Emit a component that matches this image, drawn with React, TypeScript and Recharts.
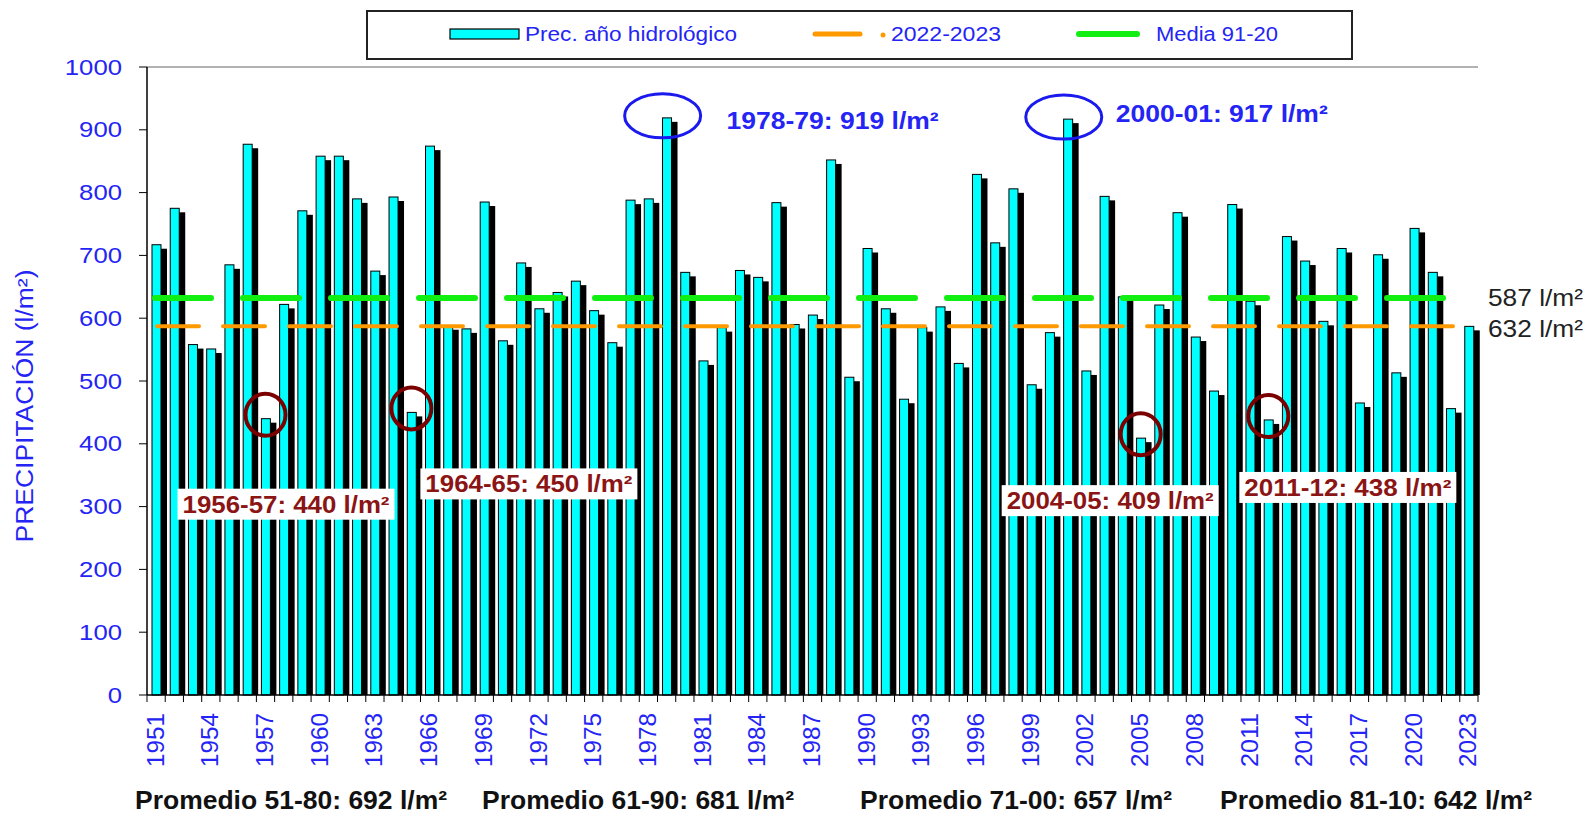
import { BarChart, Bar, XAxis, YAxis, ReferenceLine, ReferenceDot, Customized } from "recharts";

document.body.style.margin = "0";

const years = [
  "1951", "1952", "1953", "1954", "1955", "1956", "1957", "1958", "1959", "1960",
  "1961", "1962", "1963", "1964", "1965", "1966", "1967", "1968", "1969", "1970",
  "1971", "1972", "1973", "1974", "1975", "1976", "1977", "1978", "1979", "1980",
  "1981", "1982", "1983", "1984", "1985", "1986", "1987", "1988", "1989", "1990",
  "1991", "1992", "1993", "1994", "1995", "1996", "1997", "1998", "1999", "2000",
  "2001", "2002", "2003", "2004", "2005", "2006", "2007", "2008", "2009", "2010",
  "2011", "2012", "2013", "2014", "2015", "2016", "2017", "2018", "2019", "2020",
  "2021", "2022", "2023",
];

// precipitación del año hidrológico (l/m²)
const precip = [
  717, 775, 558, 551, 685, 877, 440, 622, 771, 858,
  858, 790, 675, 793, 450, 874, 588, 583, 785, 564,
  688, 615, 641, 659, 612, 561, 788, 790, 919, 673,
  532, 585, 676, 665, 784, 590, 605, 852, 506, 711,
  615, 471, 585, 618, 528, 829, 720, 806, 494, 577,
  917, 516, 794, 634, 409, 621, 768, 570, 484, 781,
  627, 438, 730, 691, 595, 711, 465, 701, 513, 743,
  673, 456, 587,
];

const labelYears = [
  "1951", "1954", "1957", "1960", "1963", "1966", "1969", "1972", "1975", "1978",
  "1981", "1984", "1987", "1990", "1993", "1996", "1999", "2002", "2005", "2008",
  "2011", "2014", "2017", "2020", "2023",
];

const yTicks = [0, 100, 200, 300, 400, 500, 600, 700, 800, 900, 1000];

const media9120 = 632;
const year2223 = 587;

const maxima = [
  { year: "1979", value: 919, text: "1978-79: 919 l/m²" },
  { year: "2001", value: 917, text: "2000-01: 917 l/m²" },
];
const minima = [
  { year: "1957", value: 440, text: "1956-57: 440 l/m²" },
  { year: "1965", value: 450, text: "1964-65: 450 l/m²" },
  { year: "2005", value: 409, text: "2004-05: 409 l/m²" },
  { year: "2012", value: 438, text: "2011-12: 438 l/m²" },
];
const promedios = [
  "Promedio 51-80: 692 l/m²",
  "Promedio 61-90: 681 l/m²",
  "Promedio 71-00: 657 l/m²",
  "Promedio 81-10: 642 l/m²",
];

// layout only
const maxOffsets = [{ tx: 60, ty: 11 }, { tx: 48, ty: 3 }];
const minOffsets = [
  { bx: -88, by: 70 },
  { bx: 9, by: 56 },
  { bx: -139, by: 47 },
  { bx: -29, by: 52 },
];
const promX = [135, 482, 860, 1220];

// dashes stop before the right border, as in the original
const greenDash = Array(14).fill("56 32").join(" ") + " 56 800";
const orangeDash = Array(19).fill("42 24").join(" ") + " 42 800";

const data = years.map((year, i) => ({ year, prec: precip[i] }));

const BLUE = "#2424f5";
const RED = "#8b1515";
const ARIAL = "'Liberation Sans', Arial, sans-serif";
const NARROW = "'Liberation Sans Narrow', 'Arial Narrow', 'Liberation Sans', Arial, sans-serif";

const ShadowBar = (props: any) => {
  const { x, y, width, height } = props;
  if (height == null || height <= 0) return null;
  return (
    <g>
      <rect x={x + 6} y={y + 4} width={width} height={height - 4} fill="#000" />
      <rect x={x} y={y} width={width} height={height} fill="#00ffff" stroke="#000" strokeWidth={1} />
    </g>
  );
};

const XTick = (props: any) => {
  const { x, y, payload, index } = props;
  const half = 9.12;
  const show = labelYears.includes(payload.value);
  return (
    <g>
      <line x1={x - half} x2={x - half} y1={y} y2={y + 7} stroke="#000" />
      {index === years.length - 1 && <line x1={x + half} x2={x + half} y1={y} y2={y + 7} stroke="#000" />}
      {show && (
        <text
          transform={`translate(${x - 1}, ${y + 18}) rotate(-90)`}
          textAnchor="end"
          dominantBaseline="central"
          fill={BLUE}
          fontSize={24}
          fontFamily={ARIAL}
          textLength={54}
          lengthAdjust="spacingAndGlyphs"
        >
          {payload.value}
        </text>
      )}
    </g>
  );
};

const YTick = (props: any) => {
  const { x, y, payload } = props;
  const s = String(payload.value);
  return (
    <text
      x={x}
      y={y}
      textAnchor="end"
      dominantBaseline="central"
      fill={BLUE}
      fontSize={22}
      fontFamily={ARIAL}
      textLength={s.length * 14.3}
      lengthAdjust="spacingAndGlyphs"
    >
      {s}
    </text>
  );
};

const Extras = () => (
  <g>
    {/* legend */}
    <rect x={367} y={11} width={985} height={48} fill="#fff" stroke="#222" strokeWidth={2} />
    <rect x={450} y={29} width={69} height={10} fill="#00ffff" stroke="#000" strokeWidth={1.2} />
    <text x={525} y={41} fill={BLUE} fontSize={20} fontFamily={NARROW} textLength={212} lengthAdjust="spacingAndGlyphs">
      Prec. año hidrológico
    </text>
    <line x1={815} x2={860} y1={34} y2={34} stroke="#ff9900" strokeWidth={5} strokeLinecap="round" />
    <circle cx={883} cy={35} r={2.5} fill="#ff9900" />
    <text x={891} y={41} fill={BLUE} fontSize={20} fontFamily={NARROW} textLength={110} lengthAdjust="spacingAndGlyphs">
      2022-2023
    </text>
    <line x1={1079} x2={1137} y1={34} y2={34} stroke="#11ee11" strokeWidth={6} strokeLinecap="round" />
    <text x={1156} y={41} fill={BLUE} fontSize={20} fontFamily={NARROW} textLength={122} lengthAdjust="spacingAndGlyphs">
      Media 91-20
    </text>

    {/* y axis title */}
    <text
      transform="translate(25, 406) rotate(-90)"
      textAnchor="middle"
      dominantBaseline="central"
      fill={BLUE}
      fontSize={23}
      fontFamily={ARIAL}
      textLength={273}
      lengthAdjust="spacingAndGlyphs"
    >
      PRECIPITACIÓN (l/m²)
    </text>

    {/* promedios */}
    {promedios.map((p, i) => (
      <text
        key={p}
        x={promX[i]}
        y={809}
        fill="#111"
        fontSize={26}
        fontWeight="bold"
        fontFamily={NARROW}
        textLength={312}
        lengthAdjust="spacingAndGlyphs"
      >
        {p}
      </text>
    ))}
  </g>
);

const rightLabel = (text: string, dy: number) => (props: any) => {
  const vb = props.viewBox || {};
  return (
    <text
      x={vb.x + vb.width + 10}
      y={vb.y + dy}
      dominantBaseline="central"
      fill="#222"
      fontSize={24}
      fontFamily={ARIAL}
      textLength={95}
      lengthAdjust="spacingAndGlyphs"
    >
      {text}
    </text>
  );
};

export default function App() {
  return (
    <BarChart
      width={1590}
      height={816}
      data={data}
      margin={{ top: 67, right: 112, left: 87, bottom: 61 }}
      barSize={9}
    >
      <XAxis
        dataKey="year"
        interval={0}
        height={60}
        tickLine={false}
        tickSize={0}
        tickMargin={0}
        axisLine={{ stroke: "#000", strokeWidth: 1.5 }}
        tick={<XTick />}
      />
      <YAxis
        domain={[0, 1000]}
        ticks={yTicks}
        interval={0}
        width={60}
        tickSize={8}
        tickMargin={17}
        axisLine={{ stroke: "#000", strokeWidth: 1.5 }}
        tickLine={{ stroke: "#000" }}
        tick={<YTick />}
      />
      <YAxis yAxisId="r" orientation="right" width={0} tick={false} tickLine={false} axisLine={{ stroke: "#999", strokeWidth: 1.5 }} />
      <ReferenceLine y={1000} stroke="#999" strokeWidth={1.5} />
      <Bar dataKey="prec" isAnimationActive={false} shape={ShadowBar} />
      <ReferenceLine
        y={media9120}
        stroke="#11ee11"
        strokeWidth={6}
        strokeDasharray={greenDash}
        strokeDashoffset={-8}
        strokeLinecap="round"
        label={rightLabel("587 l/m²", -1)}
      />
      <ReferenceLine
        y={year2223}
        stroke="#ff9900"
        strokeWidth={4}
        strokeDasharray={orangeDash}
        strokeDashoffset={-10}
        strokeLinecap="round"
        label={rightLabel("632 l/m²", 2)}
      />
      {maxima.map((m, i) => (
        <ReferenceDot
          key={m.year}
          x={m.year}
          y={m.value}
          r={0}
          shape={(p: any) => (
            <g>
              <ellipse cx={p.cx - 4} cy={p.cy - 2} rx={38} ry={22} fill="none" stroke="#1a1aee" strokeWidth={3} />
              <text
                x={p.cx + maxOffsets[i].tx}
                y={p.cy + maxOffsets[i].ty}
                fill={BLUE}
                fontSize={24}
                fontWeight="bold"
                fontFamily={ARIAL}
                textLength={212}
                lengthAdjust="spacingAndGlyphs"
              >
                {m.text}
              </text>
            </g>
          )}
        />
      ))}
      {minima.map((m, i) => (
        <ReferenceDot
          key={m.year}
          x={m.year}
          y={m.value}
          r={0}
          shape={(p: any) => (
            <g>
              <ellipse cx={p.cx} cy={p.cy - 4} rx={20} ry={21} fill="none" stroke="#7a0000" strokeWidth={4} />
              <rect x={p.cx + minOffsets[i].bx} y={p.cy + minOffsets[i].by} width={217} height={31} fill="#fff" />
              <text
                x={p.cx + minOffsets[i].bx + 5}
                y={p.cy + minOffsets[i].by + 24}
                fill={RED}
                fontSize={23}
                fontWeight="bold"
                fontFamily={ARIAL}
                textLength={207}
                lengthAdjust="spacingAndGlyphs"
              >
                {m.text}
              </text>
            </g>
          )}
        />
      ))}
      <Customized component={<Extras />} />
    </BarChart>
  );
}
